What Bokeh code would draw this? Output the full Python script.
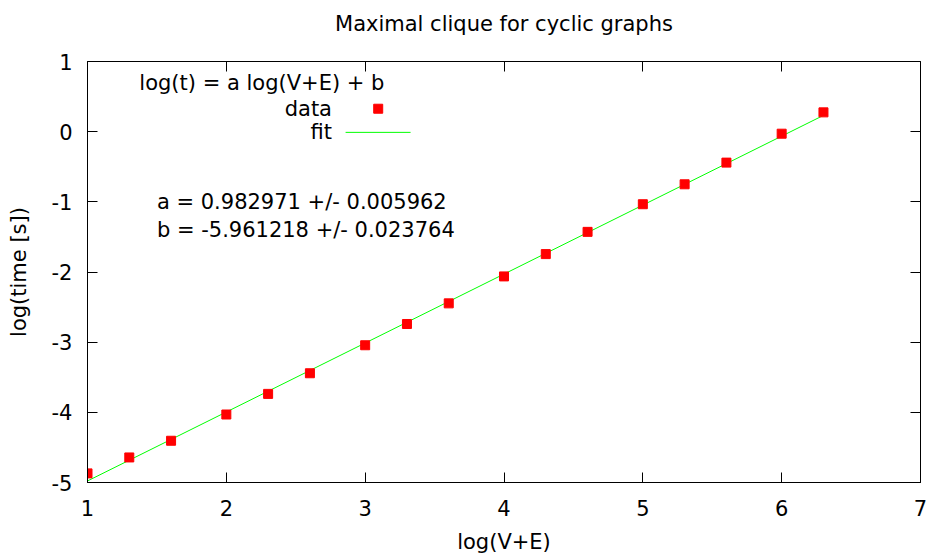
from bokeh.plotting import figure
from bokeh.models import LinearAxis, FixedTicker, Label, Range1d
from bokeh.embed import file_html
from bokeh.resources import INLINE

# ---- data ----
log_ve = [1.0, 1.301, 1.602, 2.0, 2.301, 2.602, 3.0, 3.301, 3.602,
          4.0, 4.301, 4.602, 5.0, 5.301, 5.602, 6.0, 6.301]
log_t = [-4.870, -4.643, -4.405, -4.031, -3.737, -3.443, -3.044, -2.741, -2.447,
         -2.063, -1.745, -1.428, -1.034, -0.750, -0.441, -0.029, 0.275]

# fitted line log(t) = a log(V+E) + b, drawn over the data range
fit_x = [1.0, 6.301]
fit_y = [-4.978, 0.232]

x_ticks = [1, 2, 3, 4, 5, 6, 7]
x_tick_labels = ["1", "2", "3", "4", "5", "6", "7"]
y_ticks = [-5, -4, -3, -2, -1, 0, 1]
y_tick_labels = ["-5", "-4", "-3", "-2", "-1", "0", "1"]

title_text = "Maximal clique for cyclic graphs"
x_label = "log(V+E)"
y_label = "log(time [s])"
key_title = "log(t) = a log(V+E) + b"
key_labels = ["data", "fit"]
fit_texts = ["a = 0.982971 +/- 0.005962", "b = -5.961218 +/- 0.023764"]

FONT = "DejaVu Sans"
FS = "21px"

p = figure(width=929, height=556, output_backend="svg", toolbar_location=None,
           x_range=Range1d(1, 7), y_range=Range1d(-5, 1),
           min_border_left=87, min_border_right=9, min_border_top=61,
           min_border_bottom=73)
p.title.visible = False

p.xgrid.visible = False
p.ygrid.visible = False
p.outline_line_color = "black"
p.outline_line_width = 1
p.outline_line_alpha = 1.0
p.background_fill_color = "white"
p.border_fill_color = "white"

for ax, ticks, labels in ((p.xaxis[0], x_ticks, x_tick_labels),
                          (p.yaxis[0], y_ticks, y_tick_labels)):
    ax.ticker = FixedTicker(ticks=ticks)
    ax.major_label_overrides = {t: l for t, l in zip(ticks, labels)}
    ax.major_tick_in = 10
    ax.major_tick_out = 0
    ax.minor_tick_line_color = None
    ax.major_tick_line_color = "black"
    ax.axis_line_color = "black"
    ax.major_label_text_font = FONT
    ax.major_label_text_font_size = FS
    ax.major_label_text_color = "black"
    ax.axis_label_text_font = FONT
    ax.axis_label_text_font_size = FS
    ax.axis_label_text_font_style = "normal"
    ax.axis_label_text_color = "black"

p.xaxis[0].axis_label = x_label
p.yaxis[0].axis_label = y_label
p.xaxis[0].major_label_standoff = 17
p.xaxis[0].axis_label_standoff = 11
p.yaxis[0].major_label_standoff = 15
p.yaxis[0].axis_label_standoff = 18

# mirrored ticks on top and right; the chart title sits on the top axis
for side, ticks in (("right", y_ticks), ("above", x_ticks)):
    ax = LinearAxis(ticker=FixedTicker(ticks=ticks))
    ax.major_tick_in = 10
    ax.major_tick_out = 0
    ax.minor_tick_line_color = None
    ax.major_tick_line_color = "black"
    ax.axis_line_color = None
    ax.major_label_text_font_size = "0px"
    ax.major_label_text_color = None
    ax.major_label_standoff = 0
    if side == "above":
        ax.axis_label = title_text
        ax.axis_label_text_font = FONT
        ax.axis_label_text_font_size = FS
        ax.axis_label_text_font_style = "normal"
        ax.axis_label_text_color = "black"
        ax.axis_label_standoff = 26
    p.add_layout(ax, side)

# data and fit
p.line(fit_x, fit_y, line_color="#00ff00", line_width=1)
p.scatter(log_ve, log_t, marker="square", size=9, fill_color="#ff0000",
          line_color="#ff0000")

# key (gnuplot style: label right-aligned, sample on the right)
p.add_layout(Label(x=2.256, y=0.687, text=key_title, text_align="center",
                   text_baseline="middle", text_font=FONT, text_font_size=FS,
                   text_color="black"))
key_y = [0.327, -0.010]
for lbl, ky in zip(key_labels, key_y):
    p.add_layout(Label(x=2.761, y=ky, text=lbl, text_align="right",
                       text_baseline="middle", text_font=FONT,
                       text_font_size=FS, text_color="black"))
p.scatter([3.094], [key_y[0]], marker="square", size=9, fill_color="#ff0000",
          line_color="#ff0000")
p.line([2.859, 3.327], [key_y[1], key_y[1]], line_color="#00ff00", line_width=1)

# fit parameters
for txt, ty in zip(fit_texts, [-1.0, -1.4]):
    p.add_layout(Label(x=1.5, y=ty, text=txt, text_align="left",
                       text_baseline="middle", text_font=FONT,
                       text_font_size=FS, text_color="black"))

open("out.html", "w").write(file_html(p, INLINE))
